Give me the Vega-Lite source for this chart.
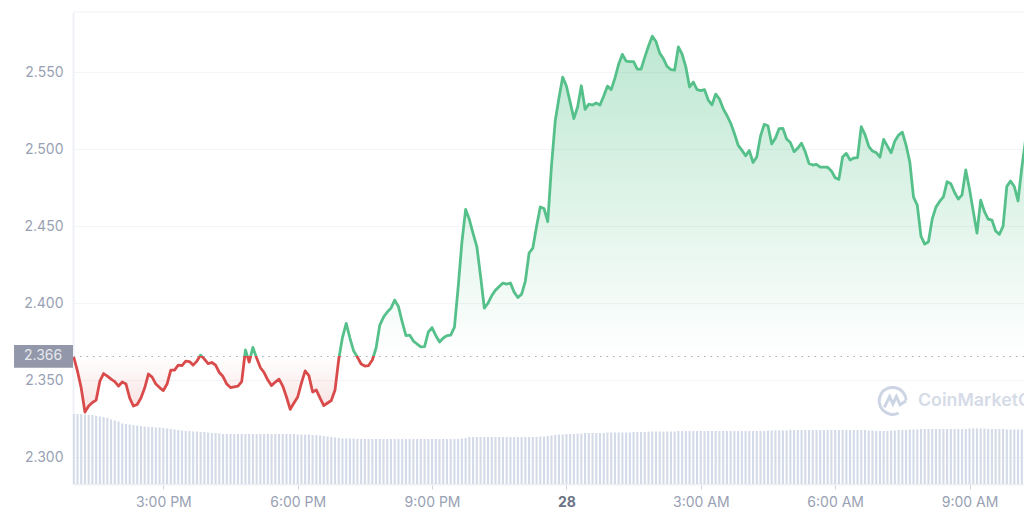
{
"$schema":"https://vega.github.io/schema/vega-lite/v6.json",
"width":951,"height":472,
"autosize":{"type":"none"},
"padding":{"left":73,"top":12,"right":0,"bottom":32},
"background":"white",
"view":{"stroke":null},
"config":{"font":"Inter","scale":{"continuousPadding":0}},
"datasets":{"m":[
{"t":"2023-03-27T13:00Z","p":2.3651,"v":70},{"t":"2023-03-27T13:05Z","p":2.3560,"v":70},{"t":"2023-03-27T13:10Z","p":2.3450,"v":70},{"t":"2023-03-27T13:15Z","p":2.3294,"v":69.5},{"t":"2023-03-27T13:20Z","p":2.3333,"v":69},{"t":"2023-03-27T13:25Z","p":2.3356,"v":69},{"t":"2023-03-27T13:30Z","p":2.3372,"v":68},{"t":"2023-03-27T13:35Z","p":2.3495,"v":67.5},{"t":"2023-03-27T13:40Z","p":2.3544,"v":67},{"t":"2023-03-27T13:45Z","p":2.3528,"v":66},{"t":"2023-03-27T13:50Z","p":2.3508,"v":64.5},{"t":"2023-03-27T13:55Z","p":2.3492,"v":63.5},
{"t":"2023-03-27T14:00Z","p":2.3463,"v":62.5},{"t":"2023-03-27T14:05Z","p":2.3489,"v":60.5},{"t":"2023-03-27T14:10Z","p":2.3476,"v":60},{"t":"2023-03-27T14:15Z","p":2.3385,"v":59.5},{"t":"2023-03-27T14:20Z","p":2.3333,"v":59},{"t":"2023-03-27T14:25Z","p":2.3343,"v":58.5},{"t":"2023-03-27T14:30Z","p":2.3385,"v":58},{"t":"2023-03-27T14:35Z","p":2.3450,"v":57.5},{"t":"2023-03-27T14:40Z","p":2.3541,"v":57},{"t":"2023-03-27T14:45Z","p":2.3521,"v":57},{"t":"2023-03-27T14:50Z","p":2.3476,"v":56.5},{"t":"2023-03-27T14:55Z","p":2.3453,"v":56.5},
{"t":"2023-03-27T15:00Z","p":2.3434,"v":56},{"t":"2023-03-27T15:05Z","p":2.3476,"v":55.5},{"t":"2023-03-27T15:10Z","p":2.3567,"v":55},{"t":"2023-03-27T15:15Z","p":2.3567,"v":54.5},{"t":"2023-03-27T15:20Z","p":2.3599,"v":54},{"t":"2023-03-27T15:25Z","p":2.3596,"v":53.5},{"t":"2023-03-27T15:30Z","p":2.3625,"v":53},{"t":"2023-03-27T15:35Z","p":2.3622,"v":53},{"t":"2023-03-27T15:40Z","p":2.3599,"v":52.5},{"t":"2023-03-27T15:45Z","p":2.3625,"v":52.5},{"t":"2023-03-27T15:50Z","p":2.3664,"v":52},{"t":"2023-03-27T15:55Z","p":2.3638,"v":52},
{"t":"2023-03-27T16:00Z","p":2.3609,"v":51.5},{"t":"2023-03-27T16:05Z","p":2.3616,"v":51},{"t":"2023-03-27T16:10Z","p":2.3599,"v":51},{"t":"2023-03-27T16:15Z","p":2.3551,"v":50.5},{"t":"2023-03-27T16:20Z","p":2.3525,"v":50},{"t":"2023-03-27T16:25Z","p":2.3476,"v":50},{"t":"2023-03-27T16:30Z","p":2.3453,"v":50},{"t":"2023-03-27T16:35Z","p":2.3458,"v":50},{"t":"2023-03-27T16:40Z","p":2.3463,"v":50},{"t":"2023-03-27T16:45Z","p":2.3492,"v":50},{"t":"2023-03-27T16:50Z","p":2.3697,"v":50},{"t":"2023-03-27T16:55Z","p":2.3619,"v":50},
{"t":"2023-03-27T17:00Z","p":2.3714,"v":50},{"t":"2023-03-27T17:05Z","p":2.3645,"v":50},{"t":"2023-03-27T17:10Z","p":2.3583,"v":50},{"t":"2023-03-27T17:15Z","p":2.3551,"v":50},{"t":"2023-03-27T17:20Z","p":2.3502,"v":50},{"t":"2023-03-27T17:25Z","p":2.3466,"v":50},{"t":"2023-03-27T17:30Z","p":2.3489,"v":50},{"t":"2023-03-27T17:35Z","p":2.3508,"v":50},{"t":"2023-03-27T17:40Z","p":2.3463,"v":50},{"t":"2023-03-27T17:45Z","p":2.3392,"v":50},{"t":"2023-03-27T17:50Z","p":2.3312,"v":50},{"t":"2023-03-27T17:55Z","p":2.3353,"v":50},
{"t":"2023-03-27T18:00Z","p":2.3392,"v":49.5},{"t":"2023-03-27T18:05Z","p":2.3482,"v":49.5},{"t":"2023-03-27T18:10Z","p":2.3562,"v":49.5},{"t":"2023-03-27T18:15Z","p":2.3531,"v":49.5},{"t":"2023-03-27T18:20Z","p":2.3424,"v":49},{"t":"2023-03-27T18:25Z","p":2.3437,"v":49},{"t":"2023-03-27T18:30Z","p":2.3385,"v":48.5},{"t":"2023-03-27T18:35Z","p":2.3336,"v":48},{"t":"2023-03-27T18:40Z","p":2.3353,"v":47.5},{"t":"2023-03-27T18:45Z","p":2.3369,"v":47},{"t":"2023-03-27T18:50Z","p":2.3437,"v":46.5},{"t":"2023-03-27T18:55Z","p":2.3638,"v":46},
{"t":"2023-03-27T19:00Z","p":2.3778,"v":45.5},{"t":"2023-03-27T19:05Z","p":2.3870,"v":45.5},{"t":"2023-03-27T19:10Z","p":2.3775,"v":45.5},{"t":"2023-03-27T19:15Z","p":2.3690,"v":45.5},{"t":"2023-03-27T19:20Z","p":2.3651,"v":45},{"t":"2023-03-27T19:25Z","p":2.3606,"v":45},{"t":"2023-03-27T19:30Z","p":2.3593,"v":45},{"t":"2023-03-27T19:35Z","p":2.3596,"v":45},{"t":"2023-03-27T19:40Z","p":2.3632,"v":45},{"t":"2023-03-27T19:45Z","p":2.3710,"v":45},{"t":"2023-03-27T19:50Z","p":2.3859,"v":45},{"t":"2023-03-27T19:55Z","p":2.3911,"v":45},
{"t":"2023-03-27T20:00Z","p":2.3944,"v":45},{"t":"2023-03-27T20:05Z","p":2.3969,"v":45},{"t":"2023-03-27T20:10Z","p":2.4021,"v":45},{"t":"2023-03-27T20:15Z","p":2.3979,"v":45},{"t":"2023-03-27T20:20Z","p":2.3879,"v":45},{"t":"2023-03-27T20:25Z","p":2.3791,"v":45},{"t":"2023-03-27T20:30Z","p":2.3794,"v":45},{"t":"2023-03-27T20:35Z","p":2.3755,"v":45},{"t":"2023-03-27T20:40Z","p":2.3736,"v":45},{"t":"2023-03-27T20:45Z","p":2.3718,"v":45},{"t":"2023-03-27T20:50Z","p":2.3719,"v":45},{"t":"2023-03-27T20:55Z","p":2.3814,"v":45},
{"t":"2023-03-27T21:00Z","p":2.3843,"v":45},{"t":"2023-03-27T21:05Z","p":2.3791,"v":45},{"t":"2023-03-27T21:10Z","p":2.3749,"v":45},{"t":"2023-03-27T21:15Z","p":2.3775,"v":45},{"t":"2023-03-27T21:20Z","p":2.3791,"v":45},{"t":"2023-03-27T21:25Z","p":2.3794,"v":45},{"t":"2023-03-27T21:30Z","p":2.3846,"v":45},{"t":"2023-03-27T21:35Z","p":2.4106,"v":45},{"t":"2023-03-27T21:40Z","p":2.4398,"v":45.5},{"t":"2023-03-27T21:45Z","p":2.4610,"v":46},{"t":"2023-03-27T21:50Z","p":2.4544,"v":47},{"t":"2023-03-27T21:55Z","p":2.4453,"v":47},
{"t":"2023-03-27T22:00Z","p":2.4369,"v":47},{"t":"2023-03-27T22:05Z","p":2.4177,"v":47},{"t":"2023-03-27T22:10Z","p":2.3969,"v":47},{"t":"2023-03-27T22:15Z","p":2.4002,"v":47},{"t":"2023-03-27T22:20Z","p":2.4051,"v":47},{"t":"2023-03-27T22:25Z","p":2.4086,"v":47},{"t":"2023-03-27T22:30Z","p":2.4109,"v":47},{"t":"2023-03-27T22:35Z","p":2.4132,"v":47},{"t":"2023-03-27T22:40Z","p":2.4125,"v":47},{"t":"2023-03-27T22:45Z","p":2.4132,"v":47},{"t":"2023-03-27T22:50Z","p":2.4073,"v":47},{"t":"2023-03-27T22:55Z","p":2.4038,"v":47},
{"t":"2023-03-27T23:00Z","p":2.4060,"v":47},{"t":"2023-03-27T23:05Z","p":2.4145,"v":47},{"t":"2023-03-27T23:10Z","p":2.4327,"v":47},{"t":"2023-03-27T23:15Z","p":2.4359,"v":47},{"t":"2023-03-27T23:20Z","p":2.4499,"v":47},{"t":"2023-03-27T23:25Z","p":2.4626,"v":47.5},{"t":"2023-03-27T23:30Z","p":2.4616,"v":47.5},{"t":"2023-03-27T23:35Z","p":2.4530,"v":48},{"t":"2023-03-27T23:40Z","p":2.4892,"v":48.5},{"t":"2023-03-27T23:45Z","p":2.5184,"v":49},{"t":"2023-03-27T23:50Z","p":2.5333,"v":49.5},{"t":"2023-03-27T23:55Z","p":2.5469,"v":49.5},
{"t":"2023-03-28T00:00Z","p":2.5411,"v":50},{"t":"2023-03-28T00:05Z","p":2.5307,"v":50},{"t":"2023-03-28T00:10Z","p":2.5200,"v":50},{"t":"2023-03-28T00:15Z","p":2.5275,"v":50.5},{"t":"2023-03-28T00:20Z","p":2.5413,"v":50.5},{"t":"2023-03-28T00:25Z","p":2.5260,"v":51},{"t":"2023-03-28T00:30Z","p":2.5294,"v":51},{"t":"2023-03-28T00:35Z","p":2.5288,"v":51},{"t":"2023-03-28T00:40Z","p":2.5301,"v":51},{"t":"2023-03-28T00:45Z","p":2.5288,"v":51},{"t":"2023-03-28T00:50Z","p":2.5346,"v":51},{"t":"2023-03-28T00:55Z","p":2.5411,"v":51.5},
{"t":"2023-03-28T01:00Z","p":2.5388,"v":51.5},{"t":"2023-03-28T01:05Z","p":2.5463,"v":51.5},{"t":"2023-03-28T01:10Z","p":2.5554,"v":51.5},{"t":"2023-03-28T01:15Z","p":2.5617,"v":51.5},{"t":"2023-03-28T01:20Z","p":2.5573,"v":51.5},{"t":"2023-03-28T01:25Z","p":2.5570,"v":51.5},{"t":"2023-03-28T01:30Z","p":2.5570,"v":52},{"t":"2023-03-28T01:35Z","p":2.5521,"v":52},{"t":"2023-03-28T01:40Z","p":2.5521,"v":52},{"t":"2023-03-28T01:45Z","p":2.5599,"v":52},{"t":"2023-03-28T01:50Z","p":2.5671,"v":52.5},{"t":"2023-03-28T01:55Z","p":2.5735,"v":52.5},
{"t":"2023-03-28T02:00Z","p":2.5700,"v":52.5},{"t":"2023-03-28T02:05Z","p":2.5625,"v":52.5},{"t":"2023-03-28T02:10Z","p":2.5588,"v":52.5},{"t":"2023-03-28T02:15Z","p":2.5538,"v":52.5},{"t":"2023-03-28T02:20Z","p":2.5518,"v":52.5},{"t":"2023-03-28T02:25Z","p":2.5515,"v":52.5},{"t":"2023-03-28T02:30Z","p":2.5666,"v":53},{"t":"2023-03-28T02:35Z","p":2.5619,"v":53},{"t":"2023-03-28T02:40Z","p":2.5534,"v":53},{"t":"2023-03-28T02:45Z","p":2.5405,"v":53},{"t":"2023-03-28T02:50Z","p":2.5437,"v":53},{"t":"2023-03-28T02:55Z","p":2.5388,"v":53},
{"t":"2023-03-28T03:00Z","p":2.5381,"v":53},{"t":"2023-03-28T03:05Z","p":2.5388,"v":53},{"t":"2023-03-28T03:10Z","p":2.5320,"v":53},{"t":"2023-03-28T03:15Z","p":2.5289,"v":53},{"t":"2023-03-28T03:20Z","p":2.5359,"v":53},{"t":"2023-03-28T03:25Z","p":2.5327,"v":53},{"t":"2023-03-28T03:30Z","p":2.5265,"v":53},{"t":"2023-03-28T03:35Z","p":2.5220,"v":53},{"t":"2023-03-28T03:40Z","p":2.5171,"v":53},{"t":"2023-03-28T03:45Z","p":2.5103,"v":53},{"t":"2023-03-28T03:50Z","p":2.5028,"v":53},{"t":"2023-03-28T03:55Z","p":2.4995,"v":53},
{"t":"2023-03-28T04:00Z","p":2.4958,"v":53},{"t":"2023-03-28T04:05Z","p":2.4992,"v":53},{"t":"2023-03-28T04:10Z","p":2.4915,"v":53},{"t":"2023-03-28T04:15Z","p":2.4950,"v":53},{"t":"2023-03-28T04:20Z","p":2.5086,"v":53},{"t":"2023-03-28T04:25Z","p":2.5162,"v":53},{"t":"2023-03-28T04:30Z","p":2.5153,"v":53.5},{"t":"2023-03-28T04:35Z","p":2.5035,"v":53.5},{"t":"2023-03-28T04:40Z","p":2.5073,"v":53.5},{"t":"2023-03-28T04:45Z","p":2.5135,"v":53.5},{"t":"2023-03-28T04:50Z","p":2.5136,"v":53.5},{"t":"2023-03-28T04:55Z","p":2.5067,"v":53.5},
{"t":"2023-03-28T05:00Z","p":2.5044,"v":54},{"t":"2023-03-28T05:05Z","p":2.4985,"v":54},{"t":"2023-03-28T05:10Z","p":2.5008,"v":54},{"t":"2023-03-28T05:15Z","p":2.5040,"v":54},{"t":"2023-03-28T05:20Z","p":2.4984,"v":54},{"t":"2023-03-28T05:25Z","p":2.4908,"v":54},{"t":"2023-03-28T05:30Z","p":2.4898,"v":54},{"t":"2023-03-28T05:35Z","p":2.4903,"v":54},{"t":"2023-03-28T05:40Z","p":2.4885,"v":54},{"t":"2023-03-28T05:45Z","p":2.4885,"v":54},{"t":"2023-03-28T05:50Z","p":2.4884,"v":54},{"t":"2023-03-28T05:55Z","p":2.4860,"v":54},
{"t":"2023-03-28T06:00Z","p":2.4816,"v":54},{"t":"2023-03-28T06:05Z","p":2.4805,"v":54},{"t":"2023-03-28T06:10Z","p":2.4950,"v":54},{"t":"2023-03-28T06:15Z","p":2.4974,"v":54},{"t":"2023-03-28T06:20Z","p":2.4931,"v":54},{"t":"2023-03-28T06:25Z","p":2.4944,"v":54},{"t":"2023-03-28T06:30Z","p":2.4946,"v":54},{"t":"2023-03-28T06:35Z","p":2.5147,"v":54},{"t":"2023-03-28T06:40Z","p":2.5096,"v":54},{"t":"2023-03-28T06:45Z","p":2.5020,"v":53.5},{"t":"2023-03-28T06:50Z","p":2.4989,"v":53.5},{"t":"2023-03-28T06:55Z","p":2.4979,"v":53},
{"t":"2023-03-28T07:00Z","p":2.4949,"v":53},{"t":"2023-03-28T07:05Z","p":2.5065,"v":53},{"t":"2023-03-28T07:10Z","p":2.5021,"v":53},{"t":"2023-03-28T07:15Z","p":2.4978,"v":53.5},{"t":"2023-03-28T07:20Z","p":2.5055,"v":53.5},{"t":"2023-03-28T07:25Z","p":2.5093,"v":54},{"t":"2023-03-28T07:30Z","p":2.5112,"v":54},{"t":"2023-03-28T07:35Z","p":2.5028,"v":54},{"t":"2023-03-28T07:40Z","p":2.4918,"v":54.5},{"t":"2023-03-28T07:45Z","p":2.4690,"v":54.5},{"t":"2023-03-28T07:50Z","p":2.4638,"v":54.5},{"t":"2023-03-28T07:55Z","p":2.4437,"v":55},
{"t":"2023-03-28T08:00Z","p":2.4385,"v":55},{"t":"2023-03-28T08:05Z","p":2.4400,"v":55},{"t":"2023-03-28T08:10Z","p":2.4547,"v":55},{"t":"2023-03-28T08:15Z","p":2.4625,"v":55},{"t":"2023-03-28T08:20Z","p":2.4662,"v":55},{"t":"2023-03-28T08:25Z","p":2.4692,"v":55},{"t":"2023-03-28T08:30Z","p":2.4790,"v":55},{"t":"2023-03-28T08:35Z","p":2.4777,"v":55},{"t":"2023-03-28T08:40Z","p":2.4720,"v":55},{"t":"2023-03-28T08:45Z","p":2.4677,"v":55},{"t":"2023-03-28T08:50Z","p":2.4705,"v":55},{"t":"2023-03-28T08:55Z","p":2.4866,"v":55},
{"t":"2023-03-28T09:00Z","p":2.4742,"v":55.5},{"t":"2023-03-28T09:05Z","p":2.4599,"v":55.5},{"t":"2023-03-28T09:10Z","p":2.4456,"v":55.5},{"t":"2023-03-28T09:15Z","p":2.4670,"v":55.5},{"t":"2023-03-28T09:20Z","p":2.4596,"v":55.5},{"t":"2023-03-28T09:25Z","p":2.4547,"v":55},{"t":"2023-03-28T09:30Z","p":2.4541,"v":55},{"t":"2023-03-28T09:35Z","p":2.4470,"v":55},{"t":"2023-03-28T09:40Z","p":2.4448,"v":55},{"t":"2023-03-28T09:45Z","p":2.4502,"v":55},{"t":"2023-03-28T09:50Z","p":2.4760,"v":54.5},{"t":"2023-03-28T09:55Z","p":2.4794,"v":54.5},
{"t":"2023-03-28T10:00Z","p":2.4759,"v":54.5},{"t":"2023-03-28T10:05Z","p":2.4665,"v":54.5},{"t":"2023-03-28T10:10Z","p":2.4879,"v":54.5},{"t":"2023-03-28T10:15Z","p":2.5060,"v":54.5}
]},
"layer":[
{"data":{"name":"m"},"mark":{"type":"area","clip":true,"line":false,"fill":{"x1":0,"y1":0,"x2":0,"y2":1,"gradient":"linear","stops":[{"offset":0,"color":"rgba(60,185,120,0.34)"},{"offset":0.8521,"color":"rgba(60,185,120,0)"},{"offset":0.8521,"color":"rgba(217,74,74,0)"},{"offset":1,"color":"rgba(217,74,74,0.17)"}]}},
"encoding":{
"x":{"field":"t","type":"temporal","title":null,"scale":{"type":"utc","domain":[{"year":2023,"month":3,"date":27,"hours":12,"minutes":59,"utc":true},{"year":2023,"month":3,"date":28,"hours":10,"minutes":13,"utc":true}]},
"axis":{"values":[{"year":2023,"month":3,"date":27,"hours":15,"utc":true},{"year":2023,"month":3,"date":27,"hours":18,"utc":true},{"year":2023,"month":3,"date":27,"hours":21,"utc":true},{"year":2023,"month":3,"date":28,"hours":0,"utc":true},{"year":2023,"month":3,"date":28,"hours":3,"utc":true},{"year":2023,"month":3,"date":28,"hours":6,"utc":true},{"year":2023,"month":3,"date":28,"hours":9,"utc":true}],
"labelExpr":"utchours(datum.value)==0 ? '28' : utcFormat(datum.value,'%-I:%M %p')","grid":false,"domain":true,"domainColor":"#eff1f6","domainWidth":2,"ticks":true,"tickColor":"#cfd3dd","tickSize":5,"labelColor":{"condition":{"test":"utchours(datum.value)==0","value":"#6b7385"},"value":"#98a1b3"},"labelFontWeight":{"condition":{"test":"utchours(datum.value)==0","value":"bold"},"value":"normal"},"labelFont":"Inter","labelFontSize":14,"labelPadding":6,"labelFlush":false}},
"y":{"field":"p","type":"quantitative","title":null,"scale":{"domain":[2.2827,2.5892],"nice":false,"zero":false},
"axis":{"values":[2.3,2.35,2.4,2.45,2.5,2.55],"format":".3f","grid":true,"gridColor":"#f3f4f7","gridWidth":1,"domain":true,"domainColor":"#eff1f6","domainWidth":2,"ticks":false,"labelColor":"#98a1b3","labelFont":"Inter","labelFontSize":14,"labelPadding":10}},
"y2":{"datum":2.3655}}},
{"data":{"name":"m"},"mark":{"type":"bar","size":2.1,"color":"#d3daE8","clip":true},
"encoding":{
"x":{"field":"t","type":"temporal","title":null,"scale":{"type":"utc","domain":[{"year":2023,"month":3,"date":27,"hours":12,"minutes":59,"utc":true},{"year":2023,"month":3,"date":28,"hours":10,"minutes":13,"utc":true}]}},
"y":{"field":"v","type":"quantitative","axis":null,"scale":{"domain":[0,472],"nice":false}}}},
{"data":{"values":[{"p":2.5892}]},"mark":{"type":"rule","color":"#f0f1f5","strokeWidth":1},
"encoding":{"y":{"field":"p","type":"quantitative","axis":null,"scale":{"domain":[2.2827,2.5892],"nice":false,"zero":false}}}},
{"data":{"values":[{"p":2.3655}]},"mark":{"type":"rule","color":"#a5abba","strokeWidth":1,"strokeDash":[1.5,5]},
"encoding":{"y":{"field":"p","type":"quantitative","axis":null,"scale":{"domain":[2.2827,2.5892],"nice":false,"zero":false}}}},
{"data":{"name":"m"},"mark":{"type":"line","clip":true,"strokeWidth":2.8,"strokeJoin":"round","stroke":{"x1":0,"y1":0,"x2":0,"y2":1,"gradient":"linear","stops":[{"offset":0,"color":"#55c08a"},{"offset":0.8521,"color":"#55c08a"},{"offset":0.8521,"color":"#d94b4b"},{"offset":1,"color":"#d94b4b"}]}},
"encoding":{
"x":{"field":"t","type":"temporal","title":null,"scale":{"type":"utc","domain":[{"year":2023,"month":3,"date":27,"hours":12,"minutes":59,"utc":true},{"year":2023,"month":3,"date":28,"hours":10,"minutes":13,"utc":true}]}},
"y":{"field":"p","type":"quantitative","axis":null,"scale":{"domain":[2.2827,2.5892],"nice":false,"zero":false}}}},
{"data":{"values":[{"a":"2023-03-27T11:40Z","b":"2023-03-27T12:59Z","lo":2.3582,"hi":2.3729}]},"mark":{"type":"rect","color":"#9298a9"},
"encoding":{
"x":{"field":"a","type":"temporal","title":null,"scale":{"type":"utc","domain":[{"year":2023,"month":3,"date":27,"hours":12,"minutes":59,"utc":true},{"year":2023,"month":3,"date":28,"hours":10,"minutes":13,"utc":true}]}},
"x2":{"field":"b"},
"y":{"field":"lo","type":"quantitative","axis":null,"scale":{"domain":[2.2827,2.5892],"nice":false,"zero":false}},
"y2":{"field":"hi"}}},
{"data":{"values":[{"t":"2023-03-27T12:19Z","p":2.3655,"label":"2.366"}]},"mark":{"type":"text","color":"#e6e8ee","font":"Inter","fontSize":14,"align":"center","baseline":"middle"},
"encoding":{
"x":{"field":"t","type":"temporal","title":null,"scale":{"type":"utc","domain":[{"year":2023,"month":3,"date":27,"hours":12,"minutes":59,"utc":true},{"year":2023,"month":3,"date":28,"hours":10,"minutes":13,"utc":true}]}},
"y":{"field":"p","type":"quantitative","axis":null,"scale":{"domain":[2.2827,2.5892],"nice":false,"zero":false}},
"text":{"field":"label"}}},
{"data":{"values":[{"t":"2023-03-28T07:17Z","p":2.3366}]},"mark":{"type":"point","shape":"M0.9,-0.05 A0.9,0.9 0 1 0 0.4,0.8 M-0.55,0.42 L-0.2,-0.3 L0.02,0.2 L0.25,-0.3 L0.5,0.25 L0.9,-0.02","size":900,"filled":false,"stroke":"#cdd5e5","strokeWidth":3,"opacity":1},
"encoding":{
"x":{"field":"t","type":"temporal","title":null,"scale":{"type":"utc","domain":[{"year":2023,"month":3,"date":27,"hours":12,"minutes":59,"utc":true},{"year":2023,"month":3,"date":28,"hours":10,"minutes":13,"utc":true}]}},
"y":{"field":"p","type":"quantitative","axis":null,"scale":{"domain":[2.2827,2.5892],"nice":false,"zero":false}}}},
{"data":{"values":[{"t":"2023-03-28T07:51Z","p":2.3366,"label":"CoinMarketCap"}]},"mark":{"type":"text","color":"#d5dbe7","font":"Inter","fontSize":17.8,"fontWeight":600,"align":"left","baseline":"middle"},
"encoding":{
"x":{"field":"t","type":"temporal","title":null,"scale":{"type":"utc","domain":[{"year":2023,"month":3,"date":27,"hours":12,"minutes":59,"utc":true},{"year":2023,"month":3,"date":28,"hours":10,"minutes":13,"utc":true}]}},
"y":{"field":"p","type":"quantitative","axis":null,"scale":{"domain":[2.2827,2.5892],"nice":false,"zero":false}},
"text":{"field":"label"}}}
],
"resolve":{"scale":{"y":"independent"}}
}
